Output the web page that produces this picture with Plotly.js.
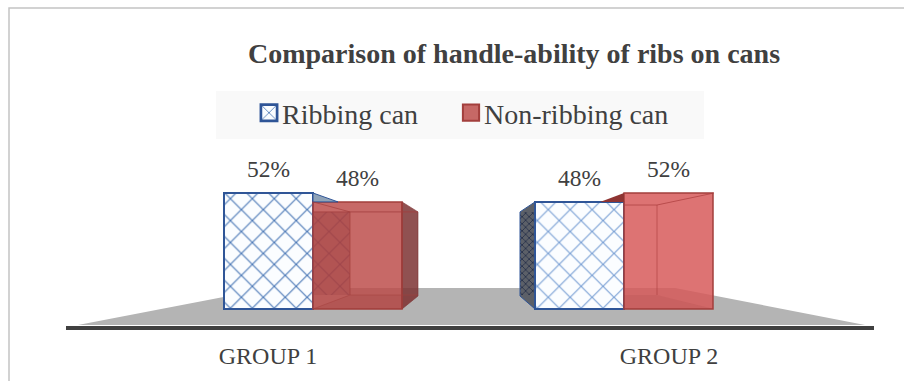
<!DOCTYPE html>
<html><head><meta charset="utf-8">
<script src="https://cdn.plot.ly/plotly-3.0.1.min.js"></script>
<style>html,body{margin:0;padding:0;background:#fff}#c{width:904px;height:381px}</style>
</head><body><div id="c"></div>
<script>
const groupLabels = ['GROUP 1', 'GROUP 2'];
const ribbingCan = [52, 48];
const nonRibbingCan = [48, 52];
const seriesNames = ['Ribbing can', 'Non-ribbing can'];
const chartTitle = 'Comparison of handle-ability of ribs on cans';

const W = 904, H = 381, ML = 66, MR = 30, MT = 100, MB = 55;
const U = 401, X0 = 268, BASE = 309, PPU = 116 / 52;
const X = p => (p - X0) / U;
const Y = p => (BASE - p) / PPU;
const pxY = v => BASE - v * PPU;
const PX = p => (p - ML) / (W - ML - MR);
const PY = p => 1 - (p - MT) / (H - MT - MB);
const barW = 89 / U;
const offBlue = [X(224), X(535) - 1];
const offRed = [X(313), X(624) - 1];
const RED1 = 'rgba(187,72,70,0.82)', RED2 = 'rgba(214,88,88,0.84)', REDLINE = '#a33f3d';
const serif = '"Liberation Serif", serif';

function poly(pts, fill, line, layer, lw) {
  return {type:'path', xref:'x', yref:'y', layer: layer || 'above',
    path: 'M' + pts.map(q => X(q[0]) + ',' + Y(q[1])).join('L') + (fill ? 'Z' : ''),
    fillcolor: fill || 'rgba(0,0,0,0)', line: {color: line || 'rgba(0,0,0,0)', width: line ? (lw || 1) : 0}};
}
const t1b = pxY(ribbingCan[0]), t1r = pxY(nonRibbingCan[0]), t2b = pxY(ribbingCan[1]), t2r = pxY(nonRibbingCan[1]);
const shapes = [
  // outer chart frame: left and top edges only reach the window
  {type:'path', xref:'paper', yref:'paper', layer:'below',
   path:`M${PX(9)},${PY(381)}L${PX(9)},${PY(8)}L${PX(904)},${PY(8)}`,
   fillcolor:'rgba(0,0,0,0)', line:{color:'#c4c4c4', width:1.5}},
  // legend background
  {type:'rect', xref:'paper', yref:'paper', layer:'below', x0:PX(216), x1:PX(704), y0:PY(139), y1:PY(91),
   fillcolor:'#f9f9f9', line:{width:0}},
  // floor
  poly([[78,325],[270,288],[675,288],[865,325]], '#b4b4b4', null, 'below'),
  // group 2 blue side
  poly([[535,t2b],[520,t2b+10],[520,296],[535,309]], '#5c6068', '#2f5597', 'below', 1),
  // group 1 blue depth wedge
  poly([[313,t1b],[338,t1r],[313,t1r]], '#8fa3b8', '#2f5597', 'above', 1),
  // group 2 red depth wedge
  poly([[600,t2b],[624,t2r],[624,t2b]], '#8e3432', null, 'above'),
  // group 1 red box
  poly([[402,t1r],[418,t1r+10],[418,296],[402,309]], 'rgba(125,50,50,0.85)', 'rgba(125,50,50,0.6)', 'above', 1),
  poly([[350,295],[418,295],[402,309],[313,309]], 'rgba(140,50,50,0.14)', null, 'above'),
  poly([[313,t1r+10],[418,t1r+10]], null, 'rgba(163,63,61,0.8)', 'above', 1),
  poly([[350,t1r+10],[350,295]], null, 'rgba(163,63,61,0.7)', 'above', 1),
  poly([[313,309],[350,295],[418,295]], null, 'rgba(163,63,61,0.5)', 'above', 1),
  poly([[313,t1r],[350,t1r+10]], null, 'rgba(163,63,61,0.7)', 'above', 1),
  poly([[402,t1r],[402,309]], null, '#a33f3d', 'above', 1.5),
  // group 2 red box interior
  poly([[624,t2r+12],[657,t2r+12],[714,t2r]], null, 'rgba(170,60,60,0.7)', 'above', 1),
  poly([[657,t2r+12],[657,295]], null, 'rgba(170,60,60,0.6)', 'above', 1),
  poly([[624,295],[657,295],[714,309],[624,309]], 'rgba(140,50,50,0.10)', null, 'above')
];

const labels = [];
[ribbingCan, nonRibbingCan].forEach((vals, s) => {
  const off = s ? offRed : offBlue;
  vals.forEach((v, g) => labels.push({x: g + off[g] + barW / 2, y: v, text: v + '%', showarrow:false,
    yanchor:'middle', yshift: 24, font:{family:serif, size:23.5, color:'#404040'}}));
});

const traces = [
  // receding inner faces of the ribbing bars, seen behind the front pattern
  {type:'bar', x:[0], y:[Math.abs(Y(295)-Y(t1r+10))], base:[Y(295)], width:[37/U], offset:[X(313)],
   showlegend:false, hoverinfo:'skip',
   marker:{color:'#6f7379', line:{width:0}, pattern:{shape:'x', size:15.5, solidity:0.15, fgcolor:'#2b3f66', bgcolor:'#8a8d93'}}},
  {type:'bar', x:[1], y:[Math.abs(Y(295)-Y(t2b+10))], base:[Y(295)], width:[15/U], offset:[X(520)-1],
   showlegend:false, hoverinfo:'skip',
   marker:{color:'rgba(0,0,0,0)', line:{width:0}, pattern:{shape:'x', size:5, solidity:0.3, fgcolor:'#26304a', bgcolor:'rgba(0,0,0,0)'}}},
  {type:'bar', name:seriesNames[0], x:[0,1], y:ribbingCan, width:[barW,barW], offset:offBlue,
   marker:{color:'#ffffff', line:{color:'#2f5597', width:2},
     pattern:{shape:'x', size:15.5, solidity:0.15, fgcolor:['#4f7bb8','#7ea3d6'], bgcolor:'#fbfdff'}}},
  {type:'bar', name:seriesNames[1], x:[0,1], y:nonRibbingCan, width:[barW,barW], offset:offRed,
   marker:{color:[RED1,RED2], line:{color:REDLINE, width:1.5}}}
];

const layout = {
  width:W, height:H, margin:{l:ML, r:MR, t:MT, b:MB, pad:0},
  paper_bgcolor:'#ffffff', plot_bgcolor:'rgba(0,0,0,0)', barmode:'overlay', showlegend:true,
  title:{text:'<b>'+chartTitle+'</b>', x:(248+780)/2/W, xanchor:'center', y:1-53/H, yanchor:'middle',
    font:{family:serif, size:28, color:'#404040'}},
  legend:{orientation:'h', x:PX(242), xanchor:'left', y:PY(88), yanchor:'top', bgcolor:'rgba(0,0,0,0)',
    font:{family:serif, size:28, color:'#404040'}, itemwidth:30, traceorder:'normal',
    entrywidth:190, entrywidthmode:'pixels'},
  xaxis:{range:[X(ML), X(W-MR)], tickvals:[0,1], ticktext:groupLabels, showgrid:false, zeroline:false,
    showline:true, linecolor:'#404040', linewidth:4, ticks:'', ticklabelstandoff:5,
    tickfont:{family:serif, size:24, color:'#404040'}, fixedrange:true},
  yaxis:{range:[Y(H-MB), Y(MT)], visible:false, showgrid:false, zeroline:false, fixedrange:true},
  shapes, annotations:labels
};
Plotly.newPlot('c', traces, layout, {staticPlot:true, displayModeBar:false}).then(gd => {
  // enlarge the legend swatches and bring them next to their text
  gd.querySelectorAll('.legendsymbols').forEach(n => n.setAttribute('transform', 'scale(1.35)'));
  // tighten the gap between the two legend entries
  const entries = gd.querySelectorAll('.legend .traces');
  if (entries[1]) {
    const m = /translate\(([-\d.]+)[, ]+([-\d.]+)\)/.exec(entries[1].getAttribute('transform'));
    if (m) entries[1].setAttribute('transform', `translate(${+m[1] - 33},${m[2]})`);
  }
});
</script></body></html>
